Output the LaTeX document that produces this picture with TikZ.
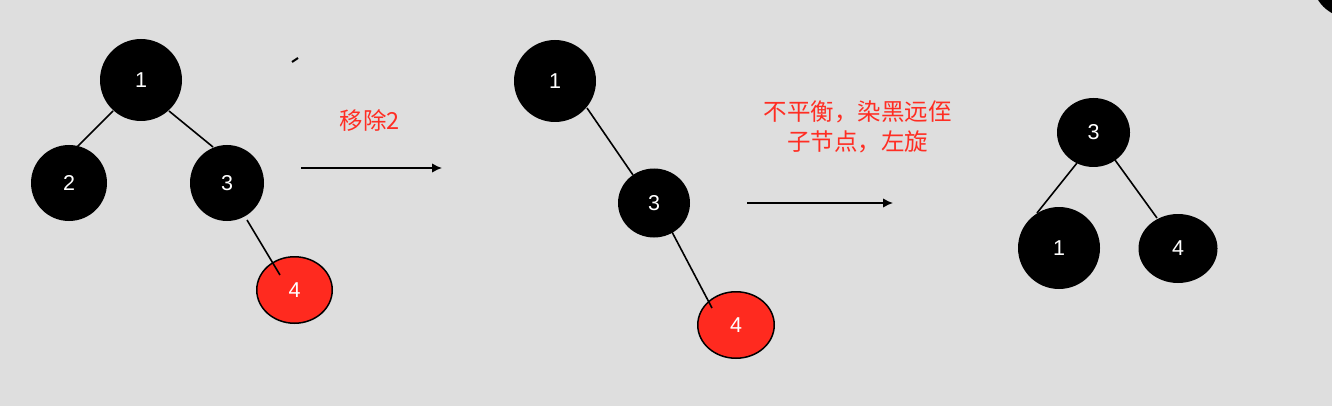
\documentclass[tikz,border=0pt]{standalone}
\usepackage{fontspec}
\setmainfont{Liberation Sans}
\newfontfamily\cjk{Noto Sans CJK SC}
\usetikzlibrary{shapes.geometric,arrows.meta,calc}
\definecolor{bg}{RGB}{222,222,222}
\definecolor{rbred}{RGB}{255,42,31}
\definecolor{txtred}{RGB}{255,45,35}
\begin{document}
\begin{tikzpicture}[x=1pt,y=-1pt,
  bnode/.style={ellipse,fill=black,text=white,inner sep=0pt,font=\fontsize{21.5}{22}\selectfont},
  rnode/.style={ellipse,fill=rbred,draw=black,line width=1.5pt,text=white,inner sep=0pt,font=\fontsize{21.5}{22}\selectfont},
  edge/.style={line width=1.6pt},
  arr/.style={line width=1.6pt,-{Latex[length=10pt,width=9.5pt]}},
  lbl/.style={text=txtred,font=\cjk\fontsize{23.5}{30}\selectfont,align=center,inner sep=0pt}]
\fill[bg] (0,0) rectangle (1332,406);
\useasboundingbox (0,0) rectangle (1332,406);
\begin{scope}
  \clip (0,0) rectangle (1332,406);
  \fill[black] (1350,-20) circle (37.7);
\end{scope}
% stray mark
\coordinate (m1) at (292,62);
\coordinate (m2) at (298,58);
\draw[line width=2pt] (m1) -- (m2);

% tree 1
\node[bnode,minimum width=82pt,minimum height=82pt] (a1) at (141,80) {1};
\node[bnode,minimum width=76pt,minimum height=76pt] (a2) at (69,183) {2};
\node[bnode,minimum width=74pt,minimum height=76pt] (a3) at (227,183) {3};
\node[rnode,minimum width=75.5pt,minimum height=66.5pt] (a4) at (294.5,290) {4};
\draw[edge] ($(a1)+(-28,31)$) -- ($(a2)+(8,-36)$);
\draw[edge] ($(a1)+(28,31)$) -- ($(a3)+(-14,-36)$);
\draw[edge] ($(a3)+(20,37)$) -- ($(a4)+(-14.5,-15)$);

% arrow 1
\node[lbl] (t1) at (370,120.5) {移除2};
\coordinate (p1) at (301,168);
\coordinate (q1) at (442,168);
\draw[arr] (p1) -- (q1);

% tree 2
\node[bnode,minimum width=82pt,minimum height=82pt] (b1) at (555,81) {1};
\node[bnode,minimum width=72pt,minimum height=69pt] (b3) at (654,203) {3};
\node[rnode,minimum width=76.5pt,minimum height=66.5pt] (b4) at (736,325) {4};
\draw[edge] ($(b1)+(32,27)$) -- ($(b3)+(-21,-28)$);
\draw[edge] ($(b3)+(18,29)$) -- ($(b4)+(-24,-17)$);

% arrow 2
\node[lbl] (t2) at (857.5,127) {不平衡，染黑远侄\\子节点，左旋};
\coordinate (p2) at (747,203);
\coordinate (q2) at (893,203);
\draw[arr] (p2) -- (q2);

% tree 3
\node[bnode,minimum width=73pt,minimum height=69pt] (c3) at (1093.5,132.5) {3};
\node[bnode,minimum width=82pt,minimum height=82pt] (c1) at (1059,248) {1};
\node[bnode,minimum width=79pt,minimum height=69pt] (c4) at (1178,248.5) {4};
\draw[edge] ($(c3)+(-16.5,30.5)$) -- ($(c1)+(-22,-35)$);
\draw[edge] ($(c3)+(21.5,27.5)$) -- ($(c4)+(-21,-30.5)$);
\end{tikzpicture}
\end{document}
